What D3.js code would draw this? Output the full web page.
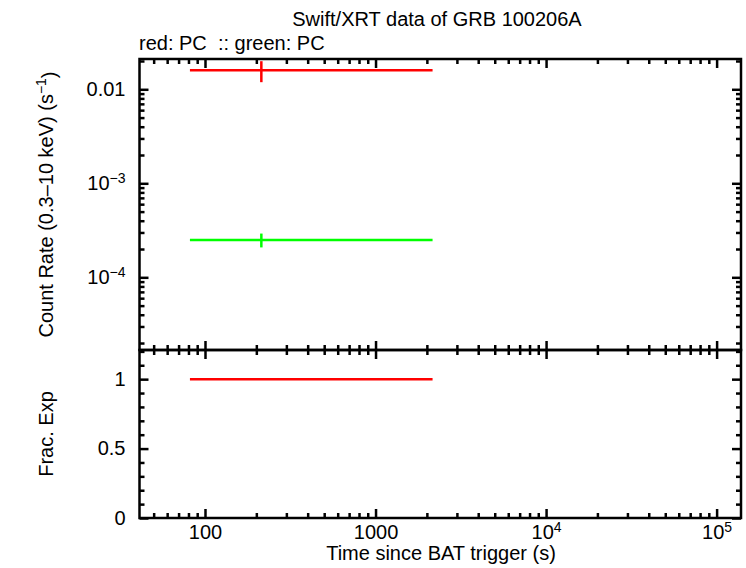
<!DOCTYPE html>
<html lang="en">
<head>
<meta charset="UTF-8">
<script src="https://d3js.org/d3.v7.min.js"></script>
<style>
    body { margin:0; background:#fff; }
    text { font-family:"Liberation Sans", Arial, sans-serif; font-size:20px; fill:#000; }
    .axis path { display:none; }
    .axis line { stroke:#000; stroke-width:2.5; }
    .frame { fill:none; stroke:#000; stroke-width:2.5; }
</style>
<title>Swift/XRT GRB 100206A</title>
</head>
<body>
<svg width="746" height="568"></svg>
<script>

// data
const redTime = [214], redTimeLo = [81.6], redTimeHi = [2160];
const redRate = [0.0159], redRateErr = [0.0040];
const greenTime = [214], greenTimeLo = [81.6], greenTimeHi = [2160];
const greenRate = [2.5e-4], greenRateErr = [4.2e-5];
const fracTimeLo = [81.6], fracTimeHi = [2160], fracExp = [1.0];

// tick labels: [mantissa text, exponent or null]
const xMajorTicks = [100, 1000, 1e4, 1e5];
const xMajorLabels = [["100", null], ["1000", null], ["10", "4"], ["10", "5"]];
const yTopMajorTicks = [0.01, 1e-3, 1e-4];
const yTopMajorLabels = [["0.01", null], ["10", "\u22123"], ["10", "\u22124"]];
const yBotMajorTicks = [0, 0.5, 1];
const yBotMajorLabels = ["0", "0.5", "1"];

const width = 746, height = 568;
const pL = 139.5, pR = 741, pT = 59, pM = 350, pB = 518;

const svg = d3.select("svg");

const x = d3.scaleLog().domain([41.3, 1.39e5]).range([pL, pR]);
const yTop = d3.scaleLog().domain([1.686e-5, 0.0210]).range([pM, pT]);
const yBot = d3.scaleLinear().domain([0, 1.21]).range([pB, pM]);

// minor ticks on log scales
function logMinors(domain) {
    const out = [];
    for (let e = Math.floor(Math.log10(domain[0])); e <= Math.ceil(Math.log10(domain[1])); e++) {
        for (let m = 2; m <= 9; m++) {
            const v = m * Math.pow(10, e);
            if (v >= domain[0] && v <= domain[1]) out.push(v);
        }
    }
    return out;
}
const xMinor = logMinors(x.domain());
const yTopMinor = logMinors(yTop.domain());
const yBotMinor = d3.range(0, 1.21, 0.1).filter(v => Math.abs(v * 2 - Math.round(v * 2)) > 1e-6);

function addAxis(axisFn, scale, vals, size, transform) {
    return svg.append("g")
        .attr("class", "axis")
        .attr("transform", transform)
        .call(axisFn(scale).tickValues(vals).tickSize(size).tickFormat(""));
}

// x ticks on the three horizontal lines
[[pT, d3.axisTop], [pM, d3.axisBottom], [pM, d3.axisTop], [pB, d3.axisBottom]]
    .forEach(([yy, fn]) => {
        addAxis(fn, x, xMajorTicks, -9, `translate(0,${yy})`);
        addAxis(fn, x, xMinor, -5, `translate(0,${yy})`);
    });

// y ticks left/right
[[pL, d3.axisLeft], [pR, d3.axisRight]].forEach(([xx, fn]) => {
    addAxis(fn, yTop, yTopMajorTicks, -9, `translate(${xx},0)`);
    addAxis(fn, yTop, yTopMinor, -5, `translate(${xx},0)`);
    addAxis(fn, yBot, yBotMajorTicks, -9, `translate(${xx},0)`);
    addAxis(fn, yBot, yBotMinor, -5, `translate(${xx},0)`);
});

// labelled axes
function supLabel(sel, lab) {
    sel.text(null);
    sel.append("tspan").text(lab[0]);
    if (lab[1]) sel.append("tspan").attr("dy", "-0.5em").style("font-size", "14px").text(lab[1]);
}

svg.append("g").attr("class", "axis")
    .attr("transform", `translate(0,${pB})`)
    .call(d3.axisBottom(x).tickValues(xMajorTicks).tickSize(0).tickPadding(7).tickFormat(""))
    .selectAll(".tick text")
    .each(function(d, i) { supLabel(d3.select(this), xMajorLabels[i]); });

svg.append("g").attr("class", "axis")
    .attr("transform", `translate(${pL},0)`)
    .call(d3.axisLeft(yTop).tickValues(yTopMajorTicks).tickSize(0).tickPadding(14).tickFormat(""))
    .selectAll(".tick text")
    .each(function(d, i) { supLabel(d3.select(this), yTopMajorLabels[i]); });

svg.append("g").attr("class", "axis")
    .attr("transform", `translate(${pL},0)`)
    .call(d3.axisLeft(yBot).tickValues(yBotMajorTicks).tickSize(0).tickPadding(14)
        .tickFormat((d, i) => yBotMajorLabels[i]));

svg.selectAll(".axis").attr("font-size", null).attr("font-family", null);

// frames
svg.append("rect").attr("class", "frame")
    .attr("x", pL).attr("y", pT).attr("width", pR - pL).attr("height", pM - pT);
svg.append("rect").attr("class", "frame")
    .attr("x", pL).attr("y", pM).attr("width", pR - pL).attr("height", pB - pM);

// data: error crosses
function errCross(times, lo, hi, vals, errs, yScale, color) {
    const g = svg.append("g").attr("stroke", color).attr("stroke-width", 2.5);
    g.selectAll(".h").data(vals).enter().append("line")
        .attr("x1", (d, i) => x(lo[i])).attr("x2", (d, i) => x(hi[i]))
        .attr("y1", d => yScale(d)).attr("y2", d => yScale(d));
    if (errs) {
        g.selectAll(".v").data(vals).enter().append("line")
            .attr("x1", (d, i) => x(times[i])).attr("x2", (d, i) => x(times[i]))
            .attr("y1", (d, i) => yScale(d + errs[i])).attr("y2", (d, i) => yScale(d - errs[i]));
    }
}
errCross(redTime, redTimeLo, redTimeHi, redRate, redRateErr, yTop, "#ff0000");
errCross(greenTime, greenTimeLo, greenTimeHi, greenRate, greenRateErr, yTop, "#00ff00");
errCross(null, fracTimeLo, fracTimeHi, fracExp, null, yBot, "#ff0000");

// titles
svg.append("text").attr("x", 437).attr("y", 26).attr("text-anchor", "middle")
    .text("Swift/XRT data of GRB 100206A");
svg.append("text").attr("x", 139).attr("y", 50).style("white-space", "pre")
    .text("red: PC  :: green: PC");
svg.append("text").attr("x", 441).attr("y", 560).attr("text-anchor", "middle")
    .text("Time since BAT trigger (s)");

const yl = svg.append("text").attr("text-anchor", "middle")
    .attr("transform", `translate(53,${(pT + pM) / 2}) rotate(-90)`);
yl.append("tspan").text("Count Rate (0.3\u201310 keV) (s");
yl.append("tspan").attr("dy", "-0.5em").style("font-size", "14px").text("\u22121");
yl.append("tspan").attr("dy", "0.5em").text(")");

svg.append("text").attr("text-anchor", "middle")
    .attr("transform", `translate(53,${(pM + pB) / 2}) rotate(-90)`)
    .text("Frac. Exp");

</script>
</body>
</html>
